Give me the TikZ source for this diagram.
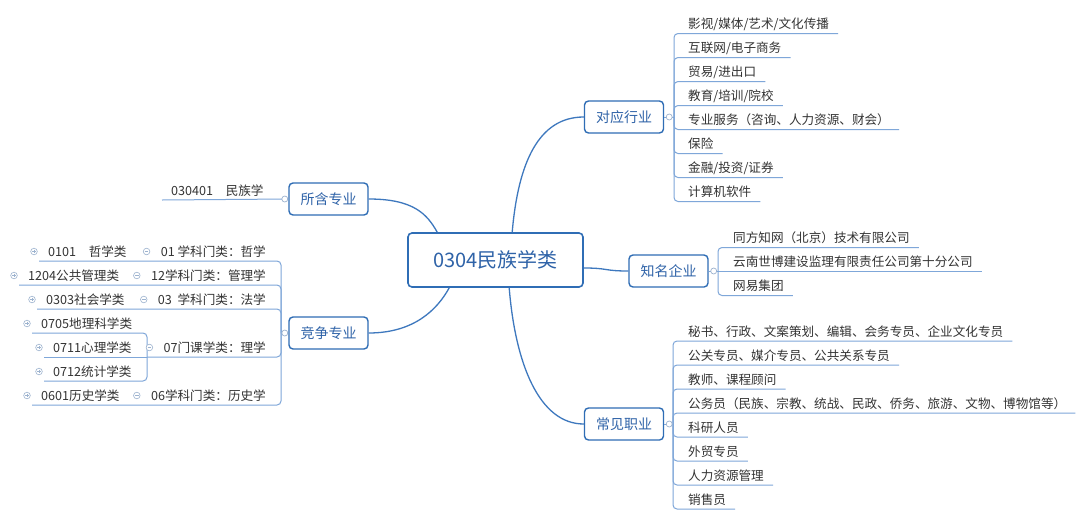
\documentclass[tikz,border=0pt]{standalone}
\usepackage{fontspec}
\setmainfont{Noto Sans CJK SC}
\usetikzlibrary{calc}
\definecolor{boxblue}{HTML}{2F6DB5}
\definecolor{linkblue}{HTML}{3E78BE}
\definecolor{ulblue}{HTML}{7FA7D9}
\definecolor{mkgray}{HTML}{9DB3CF}
\definecolor{leaftext}{HTML}{333333}
\definecolor{boxtext}{HTML}{2F63A8}
\begin{document}
\begin{tikzpicture}[x=1pt,y=-1pt,
  topic/.style={draw=boxblue, line width=1.4pt, rounded corners=4pt, fill=white, text=boxtext,
    font=\fontsize{14}{16}\selectfont, minimum width=79pt, minimum height=32pt, inner sep=0pt},
  central/.style={topic, minimum width=175pt, minimum height=54pt, font=\fontsize{20}{24}\selectfont, line width=1.6pt},
  leaf/.style={inner sep=0pt, text=leaftext, font=\fontsize{12.6}{14}\selectfont},
  link/.style={draw=linkblue, line width=1.3pt},
  uline/.style={draw=ulblue, line width=1pt, rounded corners=4pt},
  mkp/.pic={\draw[mkgray,fill=white,line width=0.6pt] (0,0) circle (3.3);
            \draw[mkgray,line width=0.7pt] (-1.8,0)--(1.8,0) (0,-1.8)--(0,1.8);},
  mkm/.pic={\draw[mkgray,fill=white,line width=0.6pt] (0,0) circle (3.3);
            \draw[mkgray,line width=0.7pt] (-1.8,0)--(1.8,0);},
  mko/.pic={\draw[mkgray,fill=white,line width=0.7pt] (0,0) circle (3);},
]
\useasboundingbox[fill=white] (0,0) rectangle (1080,520);

% ---- topic boxes
\node[central] (c) at (495.5,260) {0304民族学类};
\node[topic] (sh) at (328.5,199) {所含专业};
\node[topic] (jz) at (328.5,333) {竞争专业};
\node[topic] (dy) at (624,117) {对应行业};
\node[topic] (zm) at (668.5,271) {知名企业};
\node[topic] (cj) at (624,424) {常见职业};

% ---- central connectors
\coordinate (cshA) at ($(c.north west)+(30,0)$);
\coordinate (cjzA) at ($(c.south west)+(42,0)$);
\coordinate (cdyA) at ($(c.north west)+(105,0)$);
\coordinate (czmA) at ($(c.east)+(0,8)$);
\coordinate (ccjA) at ($(c.south west)+(102,0)$);
\draw[link] (sh.east) .. controls +(45,0) and +(-10,-18) .. (cshA);
\draw[link] (jz.east) .. controls +(45,0) and +(-12,22) .. (cjzA);
\draw[link] (cdyA) .. controls +(6,-70) and +(-45,0) .. (dy.west);
\draw[link] (czmA) .. controls +(25,0) and +(-25,0) .. (zm.west);
\draw[link] (ccjA) .. controls +(6,75) and +(-45,0) .. (cj.west);

% ---- 对应行业
\coordinate (dyj) at (674,117);
\draw[uline] (dy.east) -- (dyj);
\foreach \t [count=\i] in {影视/媒体/艺术/文化传播, 互联网/电子商务, 贸易/进出口, 教育/培训/院校,
  专业服务（咨询、人力资源、财会）, 保险, 金融/投资/证券, 计算机软件}{
  \node[leaf, anchor=base west] (dy\i) at (688, 4.5+24*\i) {\t};
  \draw[uline] (dyj) |- ($(dy\i.base east)+(9,5)$);
}
\pic at ($(dy.east)+(5,0)$) {mko};

% ---- 知名企业
\coordinate (zmj) at (718,271);
\draw[uline] (zm.east) -- (zmj);
\node[leaf, anchor=base west] (zm1) at (733,242.5) {同方知网（北京）技术有限公司};
\node[leaf, anchor=base west] (zm2) at (733,266) {云南世博建设监理有限责任公司第十分公司};
\node[leaf, anchor=base west] (zm3) at (733,290.5) {网易集团};
\draw[uline] (zmj) |- ($(zm1.base east)+(9,5)$);
\draw[uline] (zmj) -- ($(zm2.base east)+(9,5)$);
\draw[uline] (zmj) |- ($(zm3.base east)+(9,5)$);
\pic at ($(zm.east)+(5,0)$) {mko};

% ---- 常见职业
\coordinate (cjj) at (673,424);
\draw[uline] (cj.east) -- (cjj);
\foreach \t [count=\i] in {秘书、行政、文案策划、编辑、会务专员、企业文化专员, 公关专员、媒介专员、公共关系专员,
  教师、课程顾问, 公务员（民族、宗教、统战、民政、侨务、旅游、文物、博物馆等）, 科研人员, 外贸专员, 人力资源管理, 销售员}{
  \node[leaf, anchor=base west] (cj\i) at (688, 312+24*\i) {\t};
  \draw[uline] (cjj) |- ($(cj\i.base east)+(9,5)$);
}
\pic at ($(cj.east)+(5,0)$) {mko};

% ---- 所含专业
\node[leaf, anchor=base west] (sh1) at (171,195) {030401\hspace{1em}民族学};
\draw[uline] (sh.west) -- ($(sh1.base west)+(-9,5)$);
\pic at ($(sh.west)+(-3.5,0)$) {mko};

% ---- 竞争专业
\coordinate (jzj) at (281,333);
\coordinate (j07) at (147,357);
\draw[uline] (jz.west) -- (jzj);
% level 2
\node[leaf, anchor=base east] (k1) at (266,256) {01 学科门类：哲学};
\node[leaf, anchor=base east] (k2) at (266,280) {12学科门类：管理学};
\node[leaf, anchor=base east] (k3) at (266,304) {03\ \ 学科门类：法学};
\node[leaf, anchor=base east] (k4) at (266,352) {07门课学类：理学};
\node[leaf, anchor=base east] (k5) at (266,400) {06学科门类：历史学};
% level 3
\node[leaf, anchor=base west] (m1) at (48,256) {0101\hspace{1em}哲学类};
\node[leaf, anchor=base west] (m2) at (28,280) {1204公共管理类};
\node[leaf, anchor=base west] (m3) at (46,304) {0303社会学类};
\node[leaf, anchor=base west] (m4a) at (41,328) {0705地理科学类};
\node[leaf, anchor=base west] (m4b) at (53,352) {0711心理学类};
\node[leaf, anchor=base west] (m4c) at (53,376) {0712统计学类};
\node[leaf, anchor=base west] (m5) at (41,400) {0601历史学类};
\draw[uline] (jzj) |- ($(m1.base west)+(-9,5)$);
\draw[uline] (jzj) |- ($(m2.base west)+(-9,5)$);
\draw[uline] (jzj) |- ($(m3.base west)+(-9,5)$);
\draw[uline] (jzj) |- (j07);
\draw[uline] (jzj) |- ($(m5.base west)+(-9,5)$);
\draw[uline] (j07) |- ($(m4a.base west)+(-9,5)$);
\draw[uline] (j07) -- ($(m4b.base west)+(-9,5)$);
\draw[uline] (j07) |- ($(m4c.base west)+(-9,5)$);
\pic at ($(jz.west)+(-3.5,0)$) {mko};
% markers
\foreach \n in {k1,k2,k3,k4,k5}{\pic at ($(\n.base west)+(-14,-4.5)$) {mkm};}
\foreach \n in {m1,m2,m3,m4a,m4b,m4c,m5}{\pic at ($(\n.base west)+(-14,-4.5)$) {mkp};}
\end{tikzpicture}
\end{document}
